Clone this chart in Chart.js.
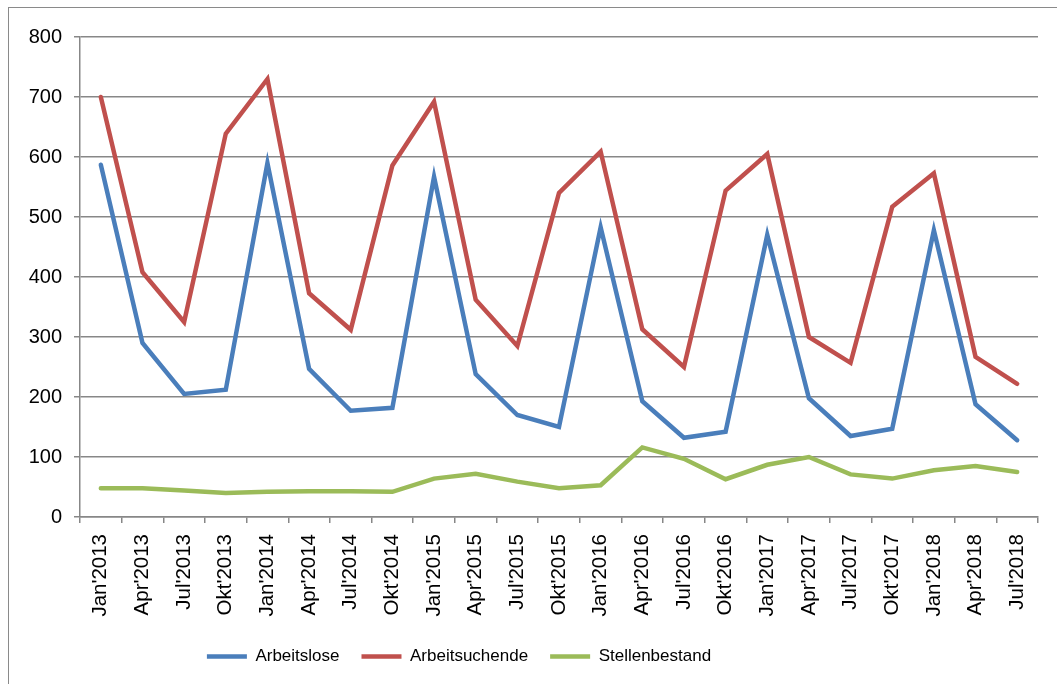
<!DOCTYPE html>
<html>
<head>
<meta charset="utf-8">
<script src="https://cdn.jsdelivr.net/npm/chart.js@4.4.1/dist/chart.umd.min.js"></script>
<style>
  html, body { margin: 0; padding: 0; background: #fff; }
  #wrap { position: relative; width: 1057px; height: 684px; overflow: hidden; }
  #frame { position: absolute; left: 8px; top: 7px; width: 1100px; height: 700px;
           border-left: 1.5px solid #8a8a8a; border-top: 1.5px solid #8a8a8a; pointer-events: none; }
  #myChart { position: absolute; left: 0; top: 0; }
</style>
</head>
<body>
<div id="wrap">
  <canvas id="myChart" width="1057" height="684"></canvas>
  <div id="frame"></div>
</div>
<script>
const labels = ["Jan'2013", "Apr'2013", "Jul'2013", "Okt'2013",
                "Jan'2014", "Apr'2014", "Jul'2014", "Okt'2014",
                "Jan'2015", "Apr'2015", "Jul'2015", "Okt'2015",
                "Jan'2016", "Apr'2016", "Jul'2016", "Okt'2016",
                "Jan'2017", "Apr'2017", "Jul'2017", "Okt'2017",
                "Jan'2018", "Apr'2018", "Jul'2018"];
const arbeitslose = [587, 290, 205, 212, 590, 247, 177, 182, 567, 238, 170, 150,
                     483, 193, 132, 142, 470, 198, 135, 147, 478, 188, 128];
const arbeitsuchende = [700, 408, 325, 639, 730, 373, 312, 586, 692, 362, 285, 540,
                        609, 313, 250, 544, 605, 300, 257, 517, 573, 267, 222];
const stellenbestand = [48, 48, 44, 40, 42, 43, 43, 42, 64, 72, 59, 48,
                        53, 116, 97, 63, 87, 100, 71, 64, 78, 85, 75];
const yTicks = [0, 100, 200, 300, 400, 500, 600, 700, 800];

const font = "'Liberation Sans', Arial, sans-serif";

// legend in the original sits left of centre
const legendShift = {
    id: "legendShift",
    afterLayout(chart) {
        chart.legend.left -= 60;
        chart.legend.right -= 60;
    }
};

const ctx = document.getElementById("myChart").getContext("2d");
const myChart = new Chart(ctx, {
    type: "line",
    data: {
        labels: labels,
        datasets: [
            {
                label: "Arbeitslose",
                data: arbeitslose,
                borderColor: "#4a7ebb",
                backgroundColor: "#4a7ebb",
                borderWidth: 4.5,
            },
            {
                label: "Arbeitsuchende",
                data: arbeitsuchende,
                borderColor: "#c0504d",
                backgroundColor: "#c0504d",
                borderWidth: 4.5,
            },
            {
                label: "Stellenbestand",
                data: stellenbestand,
                borderColor: "#9bbb59",
                backgroundColor: "#9bbb59",
                borderWidth: 4.5,
            },
        ],
    },
    options: {
        responsive: false,
        animation: false,
        elements: {
            line: { tension: 0, borderCapStyle: "round", borderJoinStyle: "miter" },
            point: { radius: 0, hoverRadius: 0 },
        },
        layout: { padding: { left: 0, right: 19, top: 37, bottom: 9 } },
        plugins: {
            legend: {
                position: "bottom",
                labels: {
                    usePointStyle: true,
                    pointStyle: "line",
                    pointStyleWidth: 40,
                    padding: 22,
                    color: "#000",
                    font: { family: font, size: 17 },
                },
            },
            tooltip: { enabled: false },
        },
        scales: {
            x: {
                offset: true,
                afterFit: (scale) => { scale.height = 109; },
                grid: { display: true, drawOnChartArea: false, offset: true, tickLength: 6,
                        color: "#878787", lineWidth: 1.5 },
                border: { color: "#878787", width: 1.5 },
                ticks: { minRotation: 90, maxRotation: 90, autoSkip: false, padding: 11,
                         color: "#000", font: { family: font, size: 20.5 } },
            },
            y: {
                min: 0,
                max: 800,
                afterFit: (scale) => { scale.width = 80; },
                afterBuildTicks: (scale) => { scale.ticks = yTicks.map(v => ({ value: v })); },
                grid: { color: "#878787", lineWidth: 1.5, tickLength: 6 },
                border: { color: "#878787", width: 1.5 },
                ticks: { padding: 12, color: "#000", font: { family: font, size: 20 } },
            },
        },
    },
    plugins: [legendShift],
});
</script>
</body>
</html>
